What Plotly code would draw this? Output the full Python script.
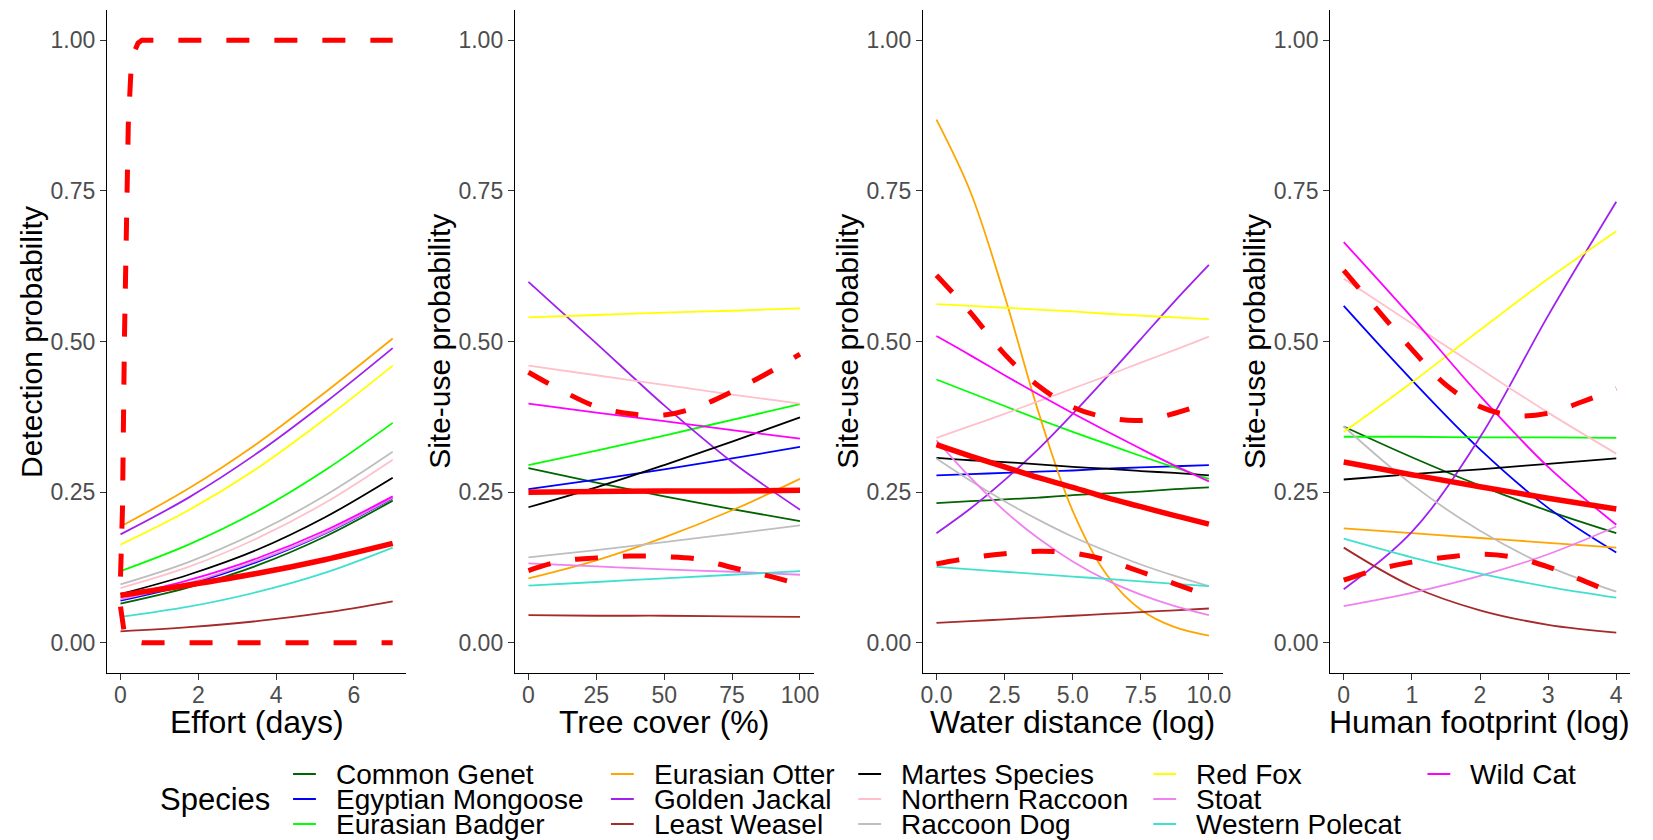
import plotly.graph_objects as go

# ---------------------------------------------------------------- data
species = ["Common Genet", "Egyptian Mongoose", "Eurasian Badger", "Eurasian Otter",
           "Golden Jackal", "Least Weasel", "Martes Species", "Northern Raccoon",
           "Raccoon Dog", "Red Fox", "Stoat", "Western Polecat", "Wild Cat"]
species_colors = ["#006400", "#0000FF", "#00FF00", "#FFA500", "#A020F0", "#A52A2A",
                  "#000000", "#FFC0CB", "#BEBEBE", "#FFFF00", "#EE82EE", "#40E0D0",
                  "#FF00FF"]

# Detection probability vs effort (days)
effort_x = [0, 1.75, 3.5, 5.25, 7]
effort_species = {
    "Common Genet":      [0.065, 0.092, 0.128, 0.176, 0.236],
    "Egyptian Mongoose": [0.070, 0.097, 0.134, 0.181, 0.240],
    "Eurasian Badger":   [0.119, 0.163, 0.218, 0.286, 0.365],
    "Eurasian Otter":    [0.193, 0.256, 0.330, 0.415, 0.505],
    "Golden Jackal":     [0.180, 0.241, 0.314, 0.398, 0.489],
    "Least Weasel":      [0.019, 0.026, 0.036, 0.050, 0.069],
    "Martes Species":    [0.081, 0.113, 0.154, 0.208, 0.274],
    "Northern Raccoon":  [0.091, 0.126, 0.173, 0.232, 0.304],
    "Raccoon Dog":       [0.097, 0.134, 0.183, 0.244, 0.317],
    "Red Fox":           [0.163, 0.220, 0.289, 0.371, 0.460],
    "Stoat":             [0.072, 0.099, 0.136, 0.182, 0.241],
    "Western Polecat":   [0.043, 0.060, 0.084, 0.116, 0.158],
    "Wild Cat":          [0.076, 0.104, 0.140, 0.186, 0.243],
}
effort_mean = [0.079, 0.096, 0.115, 0.138, 0.165]
effort_ci_x = [0, 0.05, 0.1, 0.15, 0.2, 0.27, 0.35, 0.45, 0.55, 1, 2, 3, 4, 5, 6, 7]
effort_ci_upper = [0.11, 0.22, 0.50, 0.72, 0.86, 0.95, 0.98, 0.995, 1.0, 1.0, 1.0,
                   1.0, 1.0, 1.0, 1.0, 1.0]
effort_ci_lower = [0.06, 0.03, 0.015, 0.01, 0.006, 0.003, 0.002, 0.001, 0.0, 0.0,
                   0.0, 0.0, 0.0, 0.0, 0.0, 0.0]

# Site-use probability vs tree cover (%)
tree_x = [0, 25, 50, 75, 100]
tree_species = {
    "Common Genet":      [0.290, 0.266, 0.243, 0.222, 0.202],
    "Egyptian Mongoose": [0.255, 0.271, 0.288, 0.306, 0.325],
    "Eurasian Badger":   [0.295, 0.319, 0.344, 0.370, 0.396],
    "Eurasian Otter":    [0.107, 0.137, 0.175, 0.220, 0.272],
    "Golden Jackal":     [0.599, 0.497, 0.394, 0.300, 0.221],
    "Least Weasel":      [0.046, 0.045, 0.045, 0.044, 0.043],
    "Martes Species":    [0.225, 0.258, 0.295, 0.334, 0.374],
    "Northern Raccoon":  [0.460, 0.444, 0.428, 0.412, 0.397],
    "Raccoon Dog":       [0.142, 0.154, 0.167, 0.181, 0.195],
    "Red Fox":           [0.540, 0.544, 0.548, 0.551, 0.555],
    "Stoat":             [0.132, 0.127, 0.122, 0.118, 0.113],
    "Western Polecat":   [0.095, 0.101, 0.107, 0.113, 0.119],
    "Wild Cat":          [0.397, 0.382, 0.368, 0.353, 0.339],
}
tree_mean = [0.250, 0.251, 0.252, 0.252, 0.253]
tree_ci_x = [0, 12.5, 25, 37.5, 50, 62.5, 75, 87.5, 100]
tree_ci_upper = [0.449, 0.418, 0.392, 0.380, 0.378, 0.392, 0.417, 0.446, 0.479]
tree_ci_lower = [0.120, 0.136, 0.141, 0.144, 0.143, 0.139, 0.125, 0.112, 0.097]

# Site-use probability vs water distance (log)
water_x = [0, 1.25, 2.5, 3.75, 5, 6.25, 7.5, 8.75, 10]
water_species = {
    "Common Genet":      [0.232, 0.235, 0.238, 0.241, 0.245, 0.248, 0.251, 0.255, 0.258],
    "Egyptian Mongoose": [0.278, 0.280, 0.282, 0.284, 0.286, 0.289, 0.291, 0.293, 0.295],
    "Eurasian Badger":   [0.437, 0.415, 0.393, 0.371, 0.350, 0.330, 0.310, 0.291, 0.272],
    "Eurasian Otter":    [0.868, 0.748, 0.576, 0.382, 0.219, 0.113, 0.055, 0.026, 0.012],
    "Golden Jackal":     [0.182, 0.223, 0.270, 0.322, 0.380, 0.441, 0.504, 0.567, 0.627],
    "Least Weasel":      [0.033, 0.036, 0.039, 0.042, 0.045, 0.048, 0.051, 0.054, 0.057],
    "Martes Species":    [0.307, 0.303, 0.300, 0.296, 0.292, 0.289, 0.285, 0.282, 0.278],
    "Northern Raccoon":  [0.340, 0.360, 0.380, 0.401, 0.422, 0.443, 0.465, 0.486, 0.508],
    "Raccoon Dog":       [0.306, 0.269, 0.235, 0.204, 0.176, 0.152, 0.130, 0.111, 0.094],
    "Red Fox":           [0.562, 0.559, 0.556, 0.553, 0.550, 0.546, 0.543, 0.540, 0.537],
    "Stoat":             [0.336, 0.274, 0.219, 0.173, 0.135, 0.104, 0.080, 0.061, 0.046],
    "Western Polecat":   [0.126, 0.122, 0.118, 0.114, 0.110, 0.106, 0.102, 0.098, 0.094],
    "Wild Cat":          [0.509, 0.477, 0.444, 0.412, 0.381, 0.351, 0.322, 0.294, 0.268],
}
water_mean = [0.329, 0.310, 0.292, 0.274, 0.258, 0.241, 0.226, 0.211, 0.197]
water_ci_x = [0, 1.25, 2.5, 3.75, 5, 6.25, 7.5, 8.75, 10]
water_ci_upper = [0.610, 0.548, 0.479, 0.426, 0.391, 0.374, 0.369, 0.381, 0.399]
water_ci_lower = [0.131, 0.141, 0.148, 0.152, 0.149, 0.137, 0.118, 0.098, 0.078]

# Site-use probability vs human footprint (log)
human_x = [0, 1, 2, 3, 4]
human_species = {
    "Common Genet":      [0.359, 0.308, 0.261, 0.219, 0.182],
    "Egyptian Mongoose": [0.559, 0.436, 0.321, 0.224, 0.150],
    "Eurasian Badger":   [0.342, 0.342, 0.341, 0.341, 0.340],
    "Eurasian Otter":    [0.190, 0.182, 0.174, 0.166, 0.158],
    "Golden Jackal":     [0.089, 0.184, 0.341, 0.543, 0.732],
    "Least Weasel":      [0.158, 0.094, 0.054, 0.030, 0.017],
    "Martes Species":    [0.271, 0.280, 0.288, 0.297, 0.306],
    "Northern Raccoon":  [0.604, 0.530, 0.455, 0.382, 0.314],
    "Raccoon Dog":       [0.359, 0.263, 0.186, 0.127, 0.085],
    "Red Fox":           [0.350, 0.432, 0.519, 0.604, 0.683],
    "Stoat":             [0.061, 0.083, 0.111, 0.147, 0.193],
    "Western Polecat":   [0.173, 0.142, 0.115, 0.093, 0.075],
    "Wild Cat":          [0.665, 0.540, 0.410, 0.292, 0.196],
}
human_mean = [0.300, 0.279, 0.259, 0.240, 0.222]
human_ci_x = [0, 0.5, 1, 1.5, 2, 2.5, 3, 3.5, 4]
human_ci_upper = [0.618, 0.552, 0.487, 0.428, 0.392, 0.377, 0.381, 0.400, 0.422]
human_ci_lower = [0.104, 0.122, 0.134, 0.142, 0.147, 0.142, 0.126, 0.104, 0.080]

prob_ticks = [0, 0.25, 0.5, 0.75, 1.0]
prob_labels = ["0.00", "0.25", "0.50", "0.75", "1.00"]

# ---------------------------------------------------------------- layout constants
W, H = 1653, 840
FONT = "Liberation Sans, Arial, sans-serif"
plot_top_px, plot_bottom_px = 10, 673

panels = [
    dict(x=effort_x, sp=effort_species, mean=effort_mean, cix=effort_ci_x,
         up=effort_ci_upper, lo=effort_ci_lower, px=(105.6, 407.0), rng=[-0.35, 7.35],
         tv=[0, 2, 4, 6], tt=["0", "2", "4", "6"], xt="Effort (days)",
         yt="Detection probability", ci_shape="linear"),
    dict(x=tree_x, sp=tree_species, mean=tree_mean, cix=tree_ci_x,
         up=tree_ci_upper, lo=tree_ci_lower, px=(516.3, 817.0), rng=[-5, 105],
         tv=[0, 25, 50, 75, 100], tt=["0", "25", "50", "75", "100"],
         xt="Tree cover (%)", yt="Site-use probability", ci_shape="spline"),
    dict(x=water_x, sp=water_species, mean=water_mean, cix=water_ci_x,
         up=water_ci_upper, lo=water_ci_lower, px=(927.0, 1228.7), rng=[-0.5, 10.5],
         tv=[0, 2.5, 5, 7.5, 10], tt=["0.0", "2.5", "5.0", "7.5", "10.0"],
         xt="Water distance (log)", yt="Site-use probability", ci_shape="spline"),
    dict(x=human_x, sp=human_species, mean=human_mean, cix=human_ci_x,
         up=human_ci_upper, lo=human_ci_lower, px=(1337.0, 1638.8), rng=[-0.2, 4.2],
         tv=[0, 1, 2, 3, 4], tt=["0", "1", "2", "3", "4"],
         xt="Human footprint (log)", yt="Site-use probability", ci_shape="spline"),
]


def px_x(v):
    return v / W


def px_y(v):
    return 1 - v / H


fig = go.Figure()
annotations = []
ydom = [px_y(plot_bottom_px), px_y(plot_top_px)]

for i, p in enumerate(panels, start=1):
    xa = "x" if i == 1 else f"x{i}"
    ya = "y" if i == 1 else f"y{i}"
    for name, col in zip(species, species_colors):
        fig.add_trace(go.Scatter(
            x=p["x"], y=p["sp"][name], mode="lines", name=name,
            line=dict(color=col, width=1.8, shape="spline", smoothing=1.0),
            xaxis=xa, yaxis=ya, showlegend=False, hoverinfo="skip"))
    # overall mean and its interval
    for ys in (p["up"], p["lo"]):
        fig.add_trace(go.Scatter(
            x=p["cix"], y=ys, mode="lines",
            line=dict(color="#FF0000", width=5, dash="23px,25px",
                      shape=p["ci_shape"], smoothing=1.0),
            xaxis=xa, yaxis=ya, showlegend=False, hoverinfo="skip"))
    fig.add_trace(go.Scatter(
        x=p["x"], y=p["mean"], mode="lines",
        line=dict(color="#FF0000", width=5.5, shape="spline", smoothing=1.0),
        xaxis=xa, yaxis=ya, showlegend=False, hoverinfo="skip"))

    axis_common = dict(showline=True, linecolor="black", linewidth=1.1,
                       ticks="outside", ticklen=6, tickwidth=1.1, tickcolor="#333333",
                       tickfont=dict(family=FONT, size=23, color="#4D4D4D"),
                       showgrid=False, zeroline=False, fixedrange=True)
    xkey = "xaxis" if i == 1 else f"xaxis{i}"
    ykey = "yaxis" if i == 1 else f"yaxis{i}"
    fig.update_layout(**{
        xkey: dict(domain=[px_x(p["px"][0]), px_x(p["px"][1])], range=p["rng"],
                   tickvals=p["tv"], ticktext=p["tt"], anchor=ya,
                   ticklabelstandoff=-5, **axis_common),
        ykey: dict(domain=ydom, range=[-0.05, 1.05], tickvals=prob_ticks,
                   ticktext=prob_labels, anchor=xa, **axis_common),
    })
    cx = (p["px"][0] + p["px"][1]) / 2
    annotations.append(dict(text=p["xt"], x=px_x(cx), y=px_y(722), xref="paper",
                            yref="paper", xanchor="center", yanchor="middle",
                            showarrow=False, font=dict(family=FONT, size=32, color="black")))
    annotations.append(dict(text=p["yt"], x=px_x(p["px"][0] - 76),
                            y=px_y((plot_top_px + plot_bottom_px) / 2), xref="paper",
                            yref="paper", xanchor="center", yanchor="middle",
                            textangle=-90, showarrow=False,
                            font=dict(family=FONT, size=30, color="black")))

# ---------------------------------------------------------------- legend
legend_cols_px = [293, 613, 862, 1159, 1435]
legend_rows_px = [774, 799, 824]
shapes = []
annotations.append(dict(text="Species", x=px_x(157), y=px_y(799), xref="paper",
                        yref="paper", xanchor="left", yanchor="middle", showarrow=False,
                        font=dict(family=FONT, size=31, color="black")))
for k, (name, col) in enumerate(zip(species, species_colors)):
    cx0 = legend_cols_px[k // 3]
    ry = legend_rows_px[k % 3]
    shapes.append(dict(type="line", xref="paper", yref="paper",
                       x0=px_x(cx0), x1=px_x(cx0 + 23), y0=px_y(ry), y1=px_y(ry),
                       line=dict(color=col, width=2)))
    annotations.append(dict(text=name, x=px_x(cx0 + 41), y=px_y(ry), xref="paper",
                            yref="paper", xanchor="left", yanchor="middle",
                            showarrow=False,
                            font=dict(family=FONT, size=28, color="black")))

fig.update_layout(width=W, height=H, margin=dict(l=0, r=0, t=0, b=0),
                  paper_bgcolor="white", plot_bgcolor="white", showlegend=False,
                  annotations=annotations, shapes=shapes)

fig.write_html("out.html", config={"displayModeBar": False})
